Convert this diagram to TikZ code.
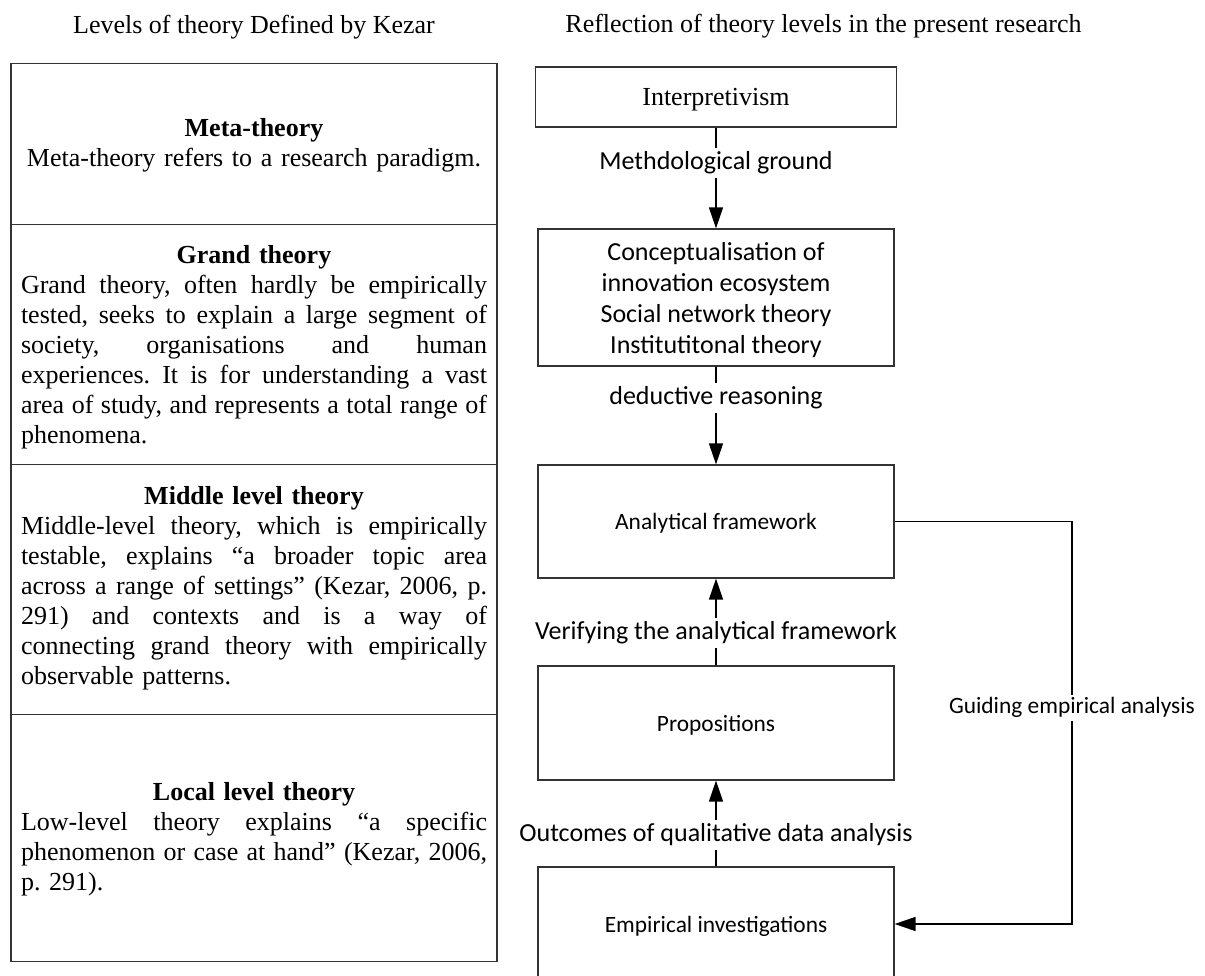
\documentclass[tikz,border=0pt]{standalone}
\usepackage{fontspec}
\setmainfont{Liberation Serif}
\newfontfamily\carlito{Carlito}
\usetikzlibrary{arrows.meta}
\frenchspacing

% type sizes
\newcommand\serifbody{\fontsize{26}{30}\selectfont}
\newcommand\sansbody{\carlito\fontsize{26}{31}\selectfont}
\newcommand\sanssmall{\carlito\fontsize{23.4}{28}\selectfont}
% a justified line (spaces share the free room equally), a flush-left closing line,
% and a line kept at its natural spacing
\newcommand\fullline[1]{\leavevmode\hbox to 466pt{\spaceskip=0pt plus 1fil\relax\xspaceskip=0pt plus 1fil\relax #1}}
\newcommand\lastline[1]{\leavevmode\hbox to 466pt{#1\hfil}}
\newcommand\natline[1]{\leavevmode\hbox{#1}}

\begin{document}
\begin{tikzpicture}[x=1pt,y=-1pt,
  levelbox/.style={draw=black!80, line width=1.2pt, inner sep=0pt,
    minimum width=486pt, anchor=north},
  leveltext/.style={inner sep=0pt, text width=466pt, align=center, font=\serifbody},
  flowbox/.style={draw=black!80, line width=1.2pt, inner sep=0pt, text depth=0pt,
    minimum width=356pt, align=center},
  conn/.style={line width=1.3pt, black},
  arr/.style={conn, -{Triangle[length=21pt,width=14pt]}},
  lab/.style={fill=white, inner xsep=2pt, inner ysep=4pt, font=\sansbody},
  title/.style={anchor=base, font=\serifbody}
]
\clip (0,0) rectangle (1205,976);
\fill[white] (0,0) rectangle (1205,976);

% column headings
\node[title] (lefthead) at (254,34) {Levels of theory Defined by Kezar};
\node[title] (righthead) at (823.5,33) {Reflection of theory levels in the present research};

% Kezar's levels of theory: the four stacked cells
\node[levelbox, minimum height=161pt] (meta) at (254,63) {};
\node[levelbox, minimum height=240pt] (grand) at (254,224) {};
\node[levelbox, minimum height=250pt] (middle) at (254,464) {};
\node[levelbox, minimum height=247pt] (local) at (254,714) {};

% their descriptions
\node[leveltext] (metatext) at (254,145)
  {\natline{\textbf{Meta-theory}}\\\natline{Meta-theory refers to a research paradigm.}};
\node[leveltext] (grandtext) at (254,347)
  {\natline{\textbf{Grand theory}}\\
   \fullline{Grand theory, often hardly be empirically}\\
   \fullline{tested, seeks to explain a large segment of}\\
   \fullline{society, organisations and human}\\
   \fullline{experiences. It is for understanding a vast}\\
   \fullline{area of study, and represents a total range of}\\
   \lastline{phenomena.}};
\node[leveltext] (middletext) at (254,588.5)
  {\natline{\textbf{Middle level theory}}\\
   \fullline{Middle-level theory, which is empirically}\\
   \fullline{testable, explains “a broader topic area}\\
   \fullline{across a range of settings” (Kezar, 2006, p.}\\
   \fullline{291) and contexts and is a way of}\\
   \fullline{connecting grand theory with empirically}\\
   \lastline{observable patterns.}};
\node[leveltext] (localtext) at (254,839.5)
  {\natline{\textbf{Local level theory}}\\
   \fullline{Low-level theory explains “a specific}\\
   \fullline{phenomenon or case at hand” (Kezar, 2006,}\\
   \lastline{p. 291).}};

% levels in the present research
\node[flowbox, minimum width=361pt, minimum height=60pt, font=\serifbody] (interp) at (716,97) {Interpretivism};
\node[flowbox, minimum height=137pt, font=\sansbody] (concept) at (716,297.5)
  {Conceptualisation of\\innovation ecosystem\\Social network theory\\Institutitonal theory};
\node[flowbox, minimum height=113pt, font=\sanssmall] (anal) at (716,521.5) {Analytical framework};
\node[flowbox, minimum height=114pt, font=\sanssmall] (props) at (716,723) {Propositions};
\node[flowbox, minimum height=114pt, font=\sanssmall] (emp) at (716,924) {Empirical investigations};

% connectors
\draw[arr] (interp.south) -- node[lab, pos=0.353] {Methdological ground} (concept.north);
\draw[arr] (concept.south) -- node[lab, pos=0.32] {deductive reasoning} (anal.north);
\draw[arr] (props.north) -- node[lab, pos=0.375] {Verifying the analytical framework} (anal.south);
\draw[arr] (emp.north) -- node[lab, pos=0.368] {Outcomes of qualitative data analysis} (props.south);

\coordinate (loopa) at (1072,521.5);
\coordinate (loopb) at (1072,924);
\draw[arr] (anal.east) -- (loopa)
  -- node[lab, pos=0.463, font=\sanssmall, inner ysep=3pt] {Guiding empirical analysis} (loopb)
  -- (emp.east);
\end{tikzpicture}
\end{document}
